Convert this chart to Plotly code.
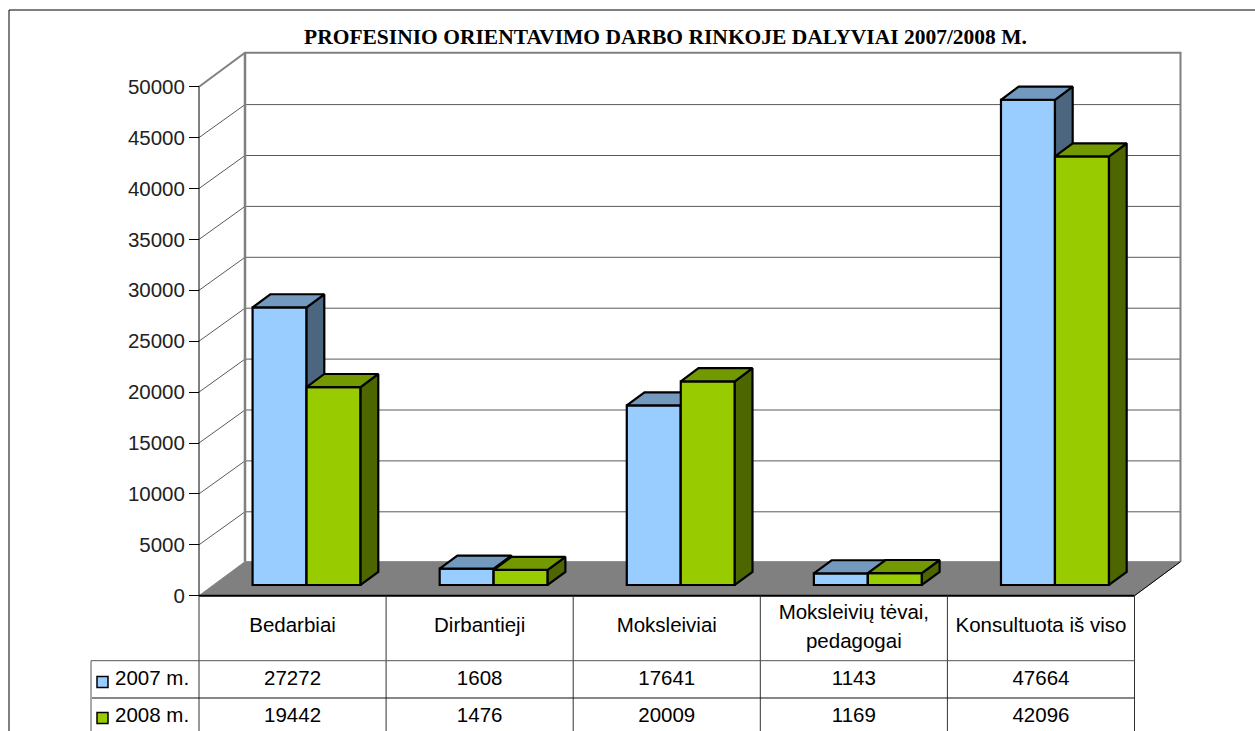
import plotly.graph_objects as go

TITLE = "PROFESINIO ORIENTAVIMO DARBO RINKOJE DALYVIAI 2007/2008 M."
categories = ["Bedarbiai", "Dirbantieji", "Moksleiviai", "Moksleivių tėvai,<br>pedagogai", "Konsultuota iš viso"]
series_names = ["2007 m.", "2008 m."]
values_2007 = [27272, 1608, 17641, 1143, 47664]
values_2008 = [19442, 1476, 20009, 1169, 42096]
y_ticks = [0, 5000, 10000, 15000, 20000, 25000, 30000, 35000, 40000, 45000, 50000]

W, H = 1255, 731
FONT = "Liberation Sans"
TXT = 20.5

# Page-spanning axes: one category = 187.1 px, one value unit = 0.01018 px
CAT_PX = 187.1
VAL_PX = 0.01018
X0_PX, Y0_PX = 199.0, 595.7
X_RANGE = [-X0_PX / CAT_PX, (W - X0_PX) / CAT_PX]
Y_RANGE = [-(H - Y0_PX) / VAL_PX, Y0_PX / VAL_PX]


def xc(px):
    return (px - X0_PX) / CAT_PX


def yv(py):
    return (Y0_PX - py) / VAL_PX


# Oblique projection of the depth axis
DX = 46 / CAT_PX
DY = 34 / VAL_PX
GRID_DY = 33 / VAL_PX
D_FRONT = 0.305
D_BAR = 0.385
BAR_W = 54 / CAT_PX
N = len(categories)
centers = [i + 0.5 for i in range(N)]

fig = go.Figure()


def line(xs, ys, color, width):
    fig.add_trace(go.Scatter(x=xs, y=ys, mode="lines", line=dict(color=color, width=width),
                             hoverinfo="skip", showlegend=False))


# Left wall diagonals and back wall grid
for t in y_ticks[1:-1]:
    line([0, DX, N + DX], [t, t + GRID_DY, t + GRID_DY], "#5a5a5a", 1)
top = y_ticks[-1]
line([0, DX, N + DX, N + DX], [top, top + DY, top + DY, DY], "#808080", 2)
line([DX, DX], [DY, top + DY], "#808080", 2.5)
line([0, 0], [0, top], "#000000", 1)

# Floor
fig.add_trace(go.Scatter(x=[0, DX, N + DX, N, 0], y=[0, DY, DY, 0, 0], mode="lines", fill="toself",
                         fillcolor="#808080", line=dict(color="#808080", width=1),
                         hoverinfo="skip", showlegend=False))
line([N, N + DX], [0, DY], "#000000", 1)
line([0, N], [0, 0], "#000000", 2)


def add_series(name, values, shift, front, top_c, side, idx):
    xa, ya = f"x{idx}", f"y{idx}"
    base = 0.315 * DY
    off = D_FRONT * DX
    dx, dy = D_BAR * DX, D_BAR * DY
    xs = [c + shift + off for c in centers]
    fig.add_trace(go.Bar(x=xs, y=values, base=[base] * N, width=BAR_W, name=name, marker=dict(
        color=front, line=dict(color="#000000", width=2.2)), xaxis=xa, yaxis=ya,
        hoverinfo="skip", showlegend=False))
    sx, sy, tx, ty = [], [], [], []
    for x, v in zip(xs, values):
        l, r = x - BAR_W / 2, x + BAR_W / 2
        t = base + v
        sx += [r, r + dx, r + dx, r, r, None]
        sy += [t, t + dy, base + dy, base, t, None]
        tx += [l, l + dx, r + dx, r, l, None]
        ty += [t, t + dy, t + dy, t, t, None]
    for px_, py_, col in ((sx, sy, side), (tx, ty, top_c)):
        fig.add_trace(go.Scatter(x=px_, y=py_, mode="lines", fill="toself", fillcolor=col,
                                 line=dict(color="#000000", width=2.2), xaxis=xa, yaxis=ya,
                                 hoverinfo="skip", showlegend=False))


add_series(series_names[0], values_2007, -BAR_W / 2, "#99CCFF", "#7399BF", "#4D6680", 2)
add_series(series_names[1], values_2008, BAR_W / 2, "#99CC00", "#739900", "#4D6600", 3)

# Data table
row_cat, row_a, row_b = yv(627), yv(680), yv(716.5)
txt = dict(family=FONT, size=TXT, color="#000000")
cat_x, cat_y, cat_t = [], [], []
for c, label in zip(centers, categories):
    parts = label.split("<br>")
    rows = [row_cat] if len(parts) == 1 else [yv(614), yv(643)]
    for part, r in zip(parts, rows):
        cat_x.append(c)
        cat_y.append(r)
        cat_t.append(part)
fig.add_trace(go.Scatter(x=cat_x, y=cat_y, text=cat_t, mode="text", textposition="middle center",
                         textfont=txt, xaxis="x3", yaxis="y3", hoverinfo="skip", showlegend=False))
for ys, labels in (([row_a] * N, values_2007), ([row_b] * N, values_2008)):
    fig.add_trace(go.Scatter(x=centers, y=ys, text=[str(v) for v in labels], mode="text",
                             textposition="middle center", textfont=txt, xaxis="x3", yaxis="y3",
                             hoverinfo="skip", showlegend=False))
for name, row, mk, col in ((series_names[0], row_a, yv(682), "#99CCFF"), (series_names[1], row_b, yv(718), "#99CC00")):
    fig.add_trace(go.Scatter(x=[xc(102.5)], y=[mk], mode="markers", xaxis="x3", yaxis="y3",
                             marker=dict(symbol="square", size=11, color=col,
                                         line=dict(color="#000000", width=1.5)),
                             hoverinfo="skip", showlegend=False))
    fig.add_trace(go.Scatter(x=[xc(115)], y=[row], text=[name], mode="text", textposition="middle right",
                             textfont=txt, xaxis="x3", yaxis="y3", hoverinfo="skip", showlegend=False))

shapes = []


def seg(x0, y0, x1, y1, color, width):
    shapes.append(dict(type="line", xref="x", yref="y", x0=x0, y0=y0, x1=x1, y1=y1, layer="above",
                       line=dict(color=color, width=width)))


bottom = Y_RANGE[0]
for i in range(N + 1):
    seg(i, 0, i, bottom, "#333333", 1)
seg(xc(91), yv(660.7), N, yv(660.7), "#555555", 1)
seg(xc(92), yv(698), N, yv(698), "#111111", 1)
seg(xc(91), yv(660.7), xc(91), bottom, "#555555", 1)
# Chart frame
seg(xc(9), yv(10), X_RANGE[1], yv(10), "#000000", 1)
seg(xc(9), yv(10), xc(9), bottom, "#000000", 1)

ax_common = dict(range=X_RANGE, domain=[0, 1], visible=False, fixedrange=True)
ay_common = dict(range=Y_RANGE, domain=[0, 1], fixedrange=True)
fig.update_layout(
    width=W, height=H, margin=dict(l=0, r=0, t=0, b=0), paper_bgcolor="white", plot_bgcolor="white",
    barmode="overlay", showlegend=False, shapes=shapes,
    annotations=[dict(text=f"<b>{TITLE}</b>", xref="paper", yref="paper", x=665.5 / W, y=1 - 37 / H,
                      xanchor="center", yanchor="middle", showarrow=False,
                      font=dict(family="Liberation Serif", size=21.5, color="#000000"))],
    xaxis=ax_common,
    yaxis=dict(**ay_common, anchor="free", position=X0_PX / W, tickvals=y_ticks, ticks="outside",
               tickformat="d", ticklen=10, tickwidth=1, tickcolor="#000000", showgrid=False, zeroline=False,
               showline=False, tickfont=dict(family=FONT, size=TXT, color="#222222")),
    xaxis2=dict(**ax_common, overlaying="x"),
    yaxis2=dict(**ay_common, overlaying="y", visible=False),
    xaxis3=dict(**ax_common, overlaying="x"),
    yaxis3=dict(**ay_common, overlaying="y", visible=False),
)
fig.write_html("out.html", config={"displayModeBar": False},
               post_script="document.body.style.margin='0';document.body.style.overflow='hidden';")
